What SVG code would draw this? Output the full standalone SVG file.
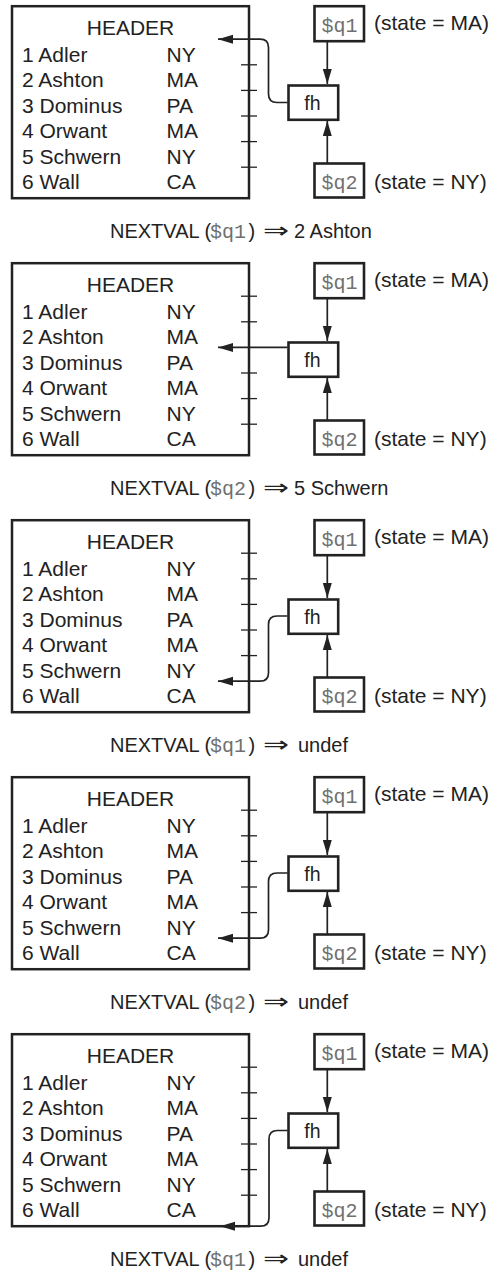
<svg xmlns="http://www.w3.org/2000/svg" width="492" height="1271" viewBox="0 0 492 1271">
<style>
  .bg { fill: #ffffff; }
  .tbl { fill: none; stroke: #222; stroke-width: 2.5; }
  .box { fill: #ffffff; stroke: #222; stroke-width: 2.6; }
  .tick { stroke: #222; stroke-width: 1.3; }
  .conn { fill: none; stroke: #222; stroke-width: 1.7; }
  .t { font-family: "Liberation Sans", Arial, sans-serif; font-size: 21px; fill: #222; }
  .fh { font-family: "Liberation Sans", Arial, sans-serif; font-size: 19.5px; fill: #222; }
  .cap { font-family: "Liberation Sans", Arial, sans-serif; font-size: 20px; fill: #222; }
  .mono { font-family: "Liberation Mono", "Courier New", monospace; font-size: 20px; fill: #707070; }
  .arr { font-family: "DejaVu Sans", sans-serif; font-size: 22px; fill: #222; }
</style>
<defs>
  <marker id="ah" markerUnits="userSpaceOnUse" markerWidth="16" markerHeight="10" refX="15" refY="5" orient="auto">
    <path d="M0,0.5 L15,5 L0,9.5 z" fill="#222"/>
  </marker>
  <g id="tableContent">
    <rect class="tbl" x="12" y="1.2" width="237" height="192"/>
    <text class="t" x="130.5" y="29.5" text-anchor="middle">HEADER</text>
    <text class="t" x="22" y="56.7">1 Adler</text><text class="t" x="166.5" y="56.7">NY</text>
    <text class="t" x="22" y="82.2">2 Ashton</text><text class="t" x="166.5" y="82.2">MA</text>
    <text class="t" x="22" y="107.7">3 Dominus</text><text class="t" x="166.5" y="107.7">PA</text>
    <text class="t" x="22" y="133.2">4 Orwant</text><text class="t" x="166.5" y="133.2">MA</text>
    <text class="t" x="22" y="158.7">5 Schwern</text><text class="t" x="166.5" y="158.7">NY</text>
    <text class="t" x="22" y="184.2">6 Wall</text><text class="t" x="166.5" y="184.2">CA</text>
  </g>
  <g id="rightNodes">
    <rect class="box" x="314.5" y="1.2" width="49.5" height="35"/>
    <text class="mono" x="339.5" y="26.5" text-anchor="middle">$q1</text>
    <text class="t" x="374" y="25">(state = MA)</text>
    <rect class="box" x="288.5" y="80.5" width="49.7" height="34.3"/>
    <text class="fh" x="312.5" y="104.5" text-anchor="middle">fh</text>
    <rect class="box" x="314.5" y="158.5" width="49.5" height="34"/>
    <text class="mono" x="339.5" y="183.5" text-anchor="middle">$q2</text>
    <text class="t" x="374" y="184">(state = NY)</text>
  </g>
</defs>
<rect class="bg" x="0" y="0" width="492" height="1271"/>

<!-- Panel 1 -->
<g transform="translate(0,5)">
  <g id="table1"><use href="#tableContent"/></g>
  <g id="ticks1">
    <line class="tick" x1="241" y1="59.8" x2="257" y2="59.8"/>
    <line class="tick" x1="241" y1="85.4" x2="257" y2="85.4"/>
    <line class="tick" x1="241" y1="111" x2="257" y2="111"/>
    <line class="tick" x1="241" y1="136.6" x2="257" y2="136.6"/>
    <line class="tick" x1="241" y1="162.2" x2="257" y2="162.2"/>
  </g>
  <g id="nodes1"><use href="#rightNodes"/></g>
  <g id="connectors1">
    <path class="conn" d="M327.3,36.5 V79" marker-end="url(#ah)"/>
    <path class="conn" d="M327.3,158 V116" marker-end="url(#ah)"/>
    <path class="conn" d="M287.5,97.5 H277 Q268.5,97.5 268.5,89 V42.5 Q268.5,34.2 260,34.2 H218" marker-end="url(#ah)"/>
  </g>
  <g id="caption1">
    <text class="cap" x="110" y="232.5">NEXTVAL (<tspan class="mono" x="210">$q1</tspan><tspan x="248.5">)</tspan></text>
    <text class="arr" x="263" y="232.5" textLength="26" lengthAdjust="spacingAndGlyphs">⇒</text>
    <text class="cap" x="294" y="232.5">2 Ashton</text>
  </g>
</g>

<!-- Panel 2 -->
<g transform="translate(0,262)">
  <g id="table2"><use href="#tableContent"/></g>
  <g id="ticks2">
    <line class="tick" x1="241" y1="34.2" x2="257" y2="34.2"/>
    <line class="tick" x1="241" y1="59.8" x2="257" y2="59.8"/>
    <line class="tick" x1="241" y1="111" x2="257" y2="111"/>
    <line class="tick" x1="241" y1="136.6" x2="257" y2="136.6"/>
    <line class="tick" x1="241" y1="162.2" x2="257" y2="162.2"/>
  </g>
  <g id="nodes2"><use href="#rightNodes"/></g>
  <g id="connectors2">
    <path class="conn" d="M327.3,36.5 V79" marker-end="url(#ah)"/>
    <path class="conn" d="M327.3,158 V116" marker-end="url(#ah)"/>
    <path class="conn" d="M287.5,85.4 H218" marker-end="url(#ah)"/>
  </g>
  <g id="caption2">
    <text class="cap" x="110" y="232.5">NEXTVAL (<tspan class="mono" x="210">$q2</tspan><tspan x="248.5">)</tspan></text>
    <text class="arr" x="263" y="232.5" textLength="26" lengthAdjust="spacingAndGlyphs">⇒</text>
    <text class="cap" x="294" y="232.5">5 Schwern</text>
  </g>
</g>

<!-- Panel 3 -->
<g transform="translate(0,519)">
  <g id="table3"><use href="#tableContent"/></g>
  <g id="ticks3">
    <line class="tick" x1="241" y1="34.2" x2="257" y2="34.2"/>
    <line class="tick" x1="241" y1="59.8" x2="257" y2="59.8"/>
    <line class="tick" x1="241" y1="85.4" x2="257" y2="85.4"/>
    <line class="tick" x1="241" y1="111" x2="257" y2="111"/>
    <line class="tick" x1="241" y1="136.6" x2="257" y2="136.6"/>
  </g>
  <g id="nodes3"><use href="#rightNodes"/></g>
  <g id="connectors3">
    <path class="conn" d="M327.3,36.5 V79" marker-end="url(#ah)"/>
    <path class="conn" d="M327.3,158 V116" marker-end="url(#ah)"/>
    <path class="conn" d="M287.5,97 H277 Q268.5,97 268.5,105.5 V153.7 Q268.5,162.2 260,162.2 H218" marker-end="url(#ah)"/>
  </g>
  <g id="caption3">
    <text class="cap" x="110" y="232.5">NEXTVAL (<tspan class="mono" x="210">$q1</tspan><tspan x="248.5">)</tspan></text>
    <text class="arr" x="263" y="232.5" textLength="26" lengthAdjust="spacingAndGlyphs">⇒</text>
    <text class="cap" x="298" y="232.5">undef</text>
  </g>
</g>

<!-- Panel 4 -->
<g transform="translate(0,776)">
  <g id="table4"><use href="#tableContent"/></g>
  <g id="ticks4">
    <line class="tick" x1="241" y1="34.2" x2="257" y2="34.2"/>
    <line class="tick" x1="241" y1="59.8" x2="257" y2="59.8"/>
    <line class="tick" x1="241" y1="85.4" x2="257" y2="85.4"/>
    <line class="tick" x1="241" y1="111" x2="257" y2="111"/>
    <line class="tick" x1="241" y1="136.6" x2="257" y2="136.6"/>
  </g>
  <g id="nodes4"><use href="#rightNodes"/></g>
  <g id="connectors4">
    <path class="conn" d="M327.3,36.5 V79" marker-end="url(#ah)"/>
    <path class="conn" d="M327.3,158 V116" marker-end="url(#ah)"/>
    <path class="conn" d="M287.5,97 H277 Q268.5,97 268.5,105.5 V153.7 Q268.5,162.2 260,162.2 H218" marker-end="url(#ah)"/>
  </g>
  <g id="caption4">
    <text class="cap" x="110" y="232.5">NEXTVAL (<tspan class="mono" x="210">$q2</tspan><tspan x="248.5">)</tspan></text>
    <text class="arr" x="263" y="232.5" textLength="26" lengthAdjust="spacingAndGlyphs">⇒</text>
    <text class="cap" x="298" y="232.5">undef</text>
  </g>
</g>

<!-- Panel 5 -->
<g transform="translate(0,1033)">
  <g id="table5"><use href="#tableContent"/></g>
  <g id="ticks5">
    <line class="tick" x1="241" y1="34.2" x2="257" y2="34.2"/>
    <line class="tick" x1="241" y1="59.8" x2="257" y2="59.8"/>
    <line class="tick" x1="241" y1="85.4" x2="257" y2="85.4"/>
    <line class="tick" x1="241" y1="111" x2="257" y2="111"/>
    <line class="tick" x1="241" y1="136.6" x2="257" y2="136.6"/>
    <line class="tick" x1="241" y1="162.2" x2="257" y2="162.2"/>
  </g>
  <g id="nodes5"><use href="#rightNodes"/></g>
  <g id="connectors5">
    <path class="conn" d="M327.3,36.5 V79" marker-end="url(#ah)"/>
    <path class="conn" d="M327.3,158 V116" marker-end="url(#ah)"/>
    <path class="conn" d="M287.5,97.5 H277.5 Q269,97.5 269,106 V184.7 Q269,193.2 260.5,193.2 H220" marker-end="url(#ah)"/>
  </g>
  <g id="caption5">
    <text class="cap" x="110" y="232.5">NEXTVAL (<tspan class="mono" x="210">$q1</tspan><tspan x="248.5">)</tspan></text>
    <text class="arr" x="263" y="232.5" textLength="26" lengthAdjust="spacingAndGlyphs">⇒</text>
    <text class="cap" x="298" y="232.5">undef</text>
  </g>
</g>
</svg>
